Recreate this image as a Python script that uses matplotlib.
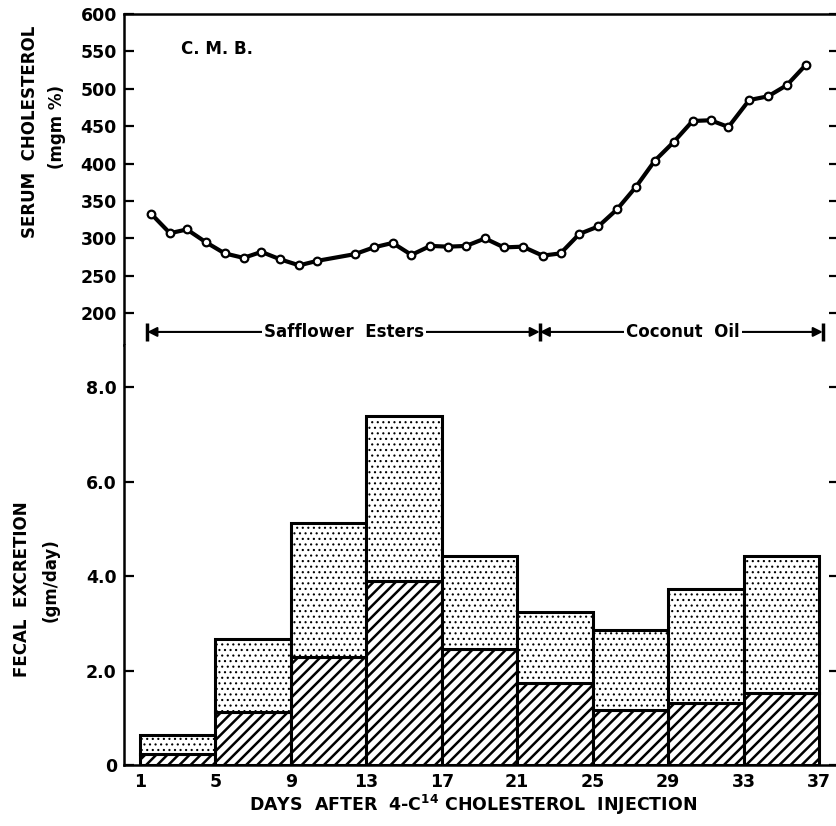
import matplotlib
matplotlib.use("Agg")
import matplotlib.pyplot as plt

plt.rcParams['font.family'] = 'DejaVu Sans'
plt.rcParams['font.weight'] = 'bold'
plt.rcParams['mathtext.default'] = 'bf'

# serum cholesterol (mgm %)
serum_days = [1.6, 2.6, 3.5, 4.5, 5.5, 6.5, 7.45, 8.45, 9.45, 10.4,
              12.4, 13.4, 14.4, 15.4, 16.4, 17.35, 18.3, 19.3, 20.3, 21.3,
              22.35, 23.3, 24.3, 25.3, 26.3, 27.3, 28.3, 29.3, 30.3, 31.25,
              32.2, 33.3, 34.3, 35.3, 36.3]
serum_vals = [333, 307, 312, 295, 280, 274, 282, 272, 264, 270,
              279, 288, 294, 278, 290, 289, 290, 300, 288, 289,
              277, 280, 306, 316, 339, 369, 404, 429, 457, 458,
              449, 485, 490, 505, 532]

# fecal excretion (gm/day), 4-day collection periods
period_start = [1, 5, 9, 13, 17, 21, 25, 29, 33]
period_len = 4
hatched_part = [0.23, 1.13, 2.28, 3.90, 2.45, 1.73, 1.17, 1.32, 1.53]
total_excr = [0.64, 2.68, 5.12, 7.39, 4.43, 3.24, 2.87, 3.74, 4.43]

day_ticks = [1, 5, 9, 13, 17, 21, 25, 29, 33, 37]
serum_ticks = [200, 250, 300, 350, 400, 450, 500, 550, 600]
fecal_ticks = [0, 2, 4, 6, 8]
fecal_labels = ['0', '2.0', '4.0', '6.0', '8.0']

# diet periods
phase_edges = [1.4, 22.2, 37.2]
phase_names = ['Safflower  Esters', 'Coconut  Oil']
phase_text_x = [11.8, 29.8]
phase_y = 175

fig = plt.figure(figsize=(8.36, 8.26), dpi=100)
ax1 = fig.add_axes([0.148, 0.5823, 0.852, 0.4007])
ax2 = fig.add_axes([0.148, 0.0738, 0.852, 0.5085])

xlim = (0.15, 37.9)
lw_spine = 1.8

# ---- top: serum cholesterol
ax1.plot(serum_days, serum_vals, color='black', lw=3.0, marker='o', ms=5.5,
         mfc='white', mec='black', mew=1.6, zorder=3)
ax1.set_xlim(*xlim)
ax1.set_ylim(157.5, 600)
ax1.set_yticks(serum_ticks)
ax1.set_xticks([])
ax1.spines['bottom'].set_visible(False)
ax1.spines['right'].set_visible(False)
for s in ['left', 'top']:
    ax1.spines[s].set_linewidth(lw_spine)
ax1.tick_params(axis='y', left=True, right=True, direction='in', length=7,
                width=1.6, labelsize=12.5, pad=5)
for t in ax1.yaxis.get_major_ticks():
    t.tick2line.set_markersize(5)

ax1.text(3.2, 553, 'C. M. B.', fontsize=12, fontweight='bold', ha='left', va='center')

# diet period arrows
for i in range(len(phase_names)):
    a, b = phase_edges[i], phase_edges[i + 1]
    ax1.annotate('', xy=(a, phase_y), xytext=(b, phase_y),
                 arrowprops=dict(arrowstyle='<|-|>', lw=1.5, color='black',
                                 mutation_scale=14, shrinkA=0, shrinkB=0))
    ax1.text(phase_text_x[i], phase_y, phase_names[i], ha='center', va='center',
             fontsize=12, fontweight='bold',
             bbox=dict(fc='white', ec='none', pad=1.5), zorder=4)
ax1.plot(phase_edges, [phase_y] * len(phase_edges), ls='none', marker='|',
         ms=13, mew=2.5, color='black')

# ---- bottom: fecal excretion
dotted_part = [t - h for t, h in zip(total_excr, hatched_part)]
plt.rcParams['hatch.linewidth'] = 1.8
bars1 = ax2.bar(period_start, hatched_part, width=period_len, align='edge',
                color='white', edgecolor='black', hatch='///', linewidth=2.2)
plt.rcParams['hatch.linewidth'] = 0.8
bars2 = ax2.bar(period_start, dotted_part, bottom=hatched_part, width=period_len,
                align='edge', color='white', edgecolor='black', hatch='...',
                linewidth=2.2)

ax2.set_xlim(*xlim)
ax2.set_ylim(0, 8.9)
ax2.set_yticks(fecal_ticks)
ax2.set_yticklabels(fecal_labels)
ax2.set_xticks(day_ticks)
ax2.spines['top'].set_visible(False)
ax2.spines['right'].set_visible(False)
for s in ['left', 'bottom']:
    ax2.spines[s].set_linewidth(lw_spine)
ax2.tick_params(axis='y', left=True, right=True, direction='in', length=7,
                width=1.6, labelsize=12.5, pad=5)
for t in ax2.yaxis.get_major_ticks():
    t.tick2line.set_markersize(5)
ax2.tick_params(axis='x', length=0, labelsize=12.5, pad=6)

# axis titles
fig.text(30 / 836, 1 - 132 / 826, 'SERUM  CHOLESTEROL', rotation=90,
         ha='center', va='center', fontsize=12, fontweight='bold')
fig.text(57 / 836, 1 - 127 / 826, '(mgm %)', rotation=90,
         ha='center', va='center', fontsize=12, fontweight='bold')
fig.text(22 / 836, 1 - 589 / 826, 'FECAL  EXCRETION', rotation=90,
         ha='center', va='center', fontsize=12, fontweight='bold')
fig.text(51 / 836, 1 - 580 / 826, '(gm/day)', rotation=90,
         ha='center', va='center', fontsize=12, fontweight='bold')
fig.text(473 / 836, 1 - 805 / 826, 'DAYS  AFTER  4-C$^{14}$ CHOLESTEROL  INJECTION',
         ha='center', va='center', fontsize=12.5, fontweight='bold')

fig.savefig('out.png', dpi=100)
